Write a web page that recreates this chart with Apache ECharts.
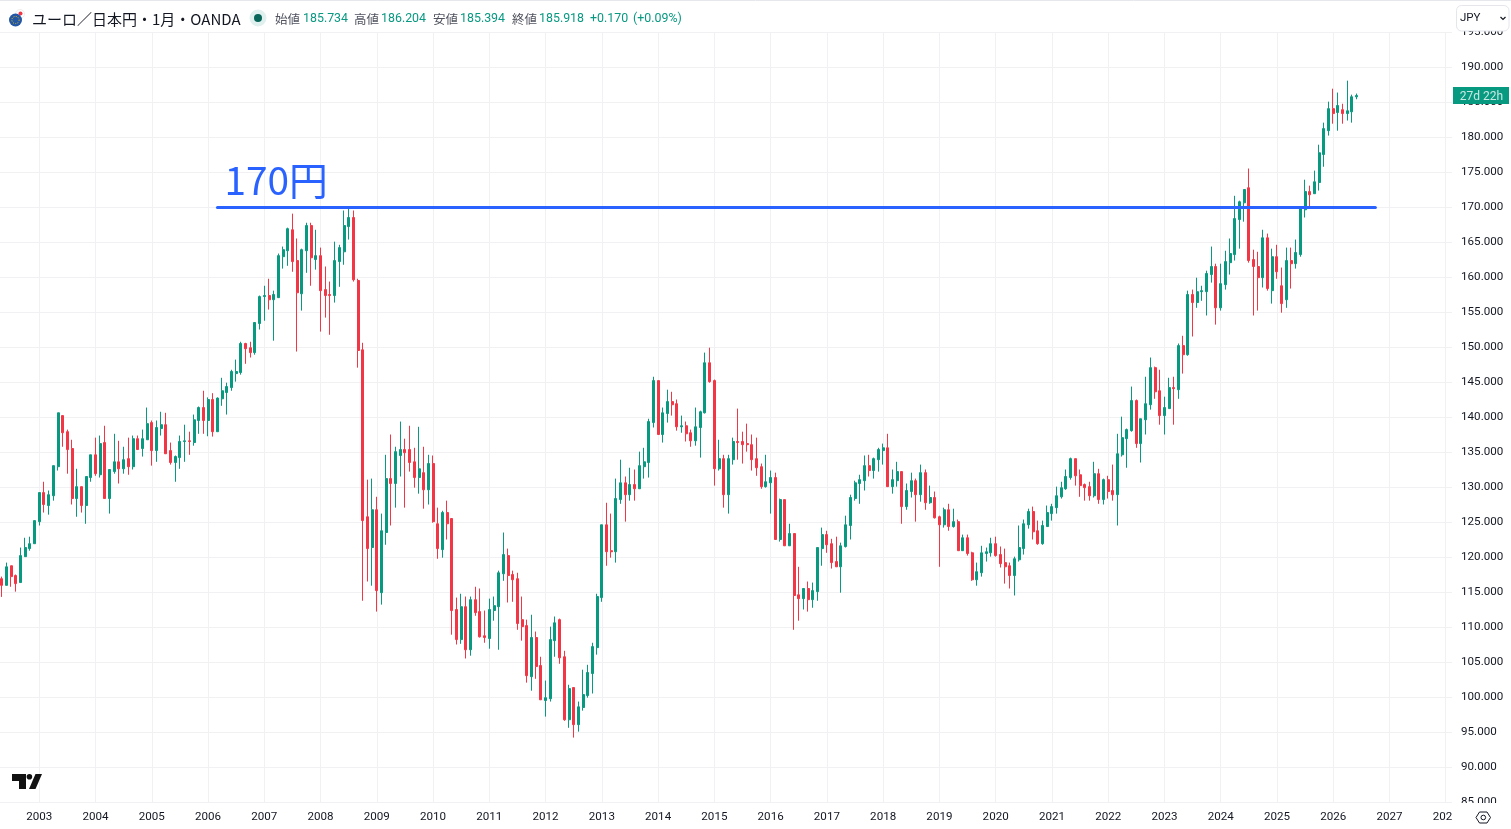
<!DOCTYPE html>
<html>
<head>
<meta charset="utf-8">
<style>html,body{margin:0;padding:0;background:#fff;overflow:hidden}#chart{width:1511px;height:829px}</style>
<script src="https://cdn.jsdelivr.net/npm/echarts@6/dist/echarts.min.js"></script>
</head>
<body>
<div id="chart"></div>
<script>
// Monthly EUR/JPY candles, one row per month: [open, close, low, high]
const candles2002 = [[116.9,115.95,114.3,117.2],[115.95,118.6,115.95,119.2],[118.75,117.2,115.75,118.75],[117.35,116.2,115.05,117.5],[116.35,120.2,116.35,121.35],[120.05,121.35,120.05,122.75],[121.2,121.9,120.9,122.9],[121.9,125.2,121.9,125.2]];
const candles2003 = [[125.05,129.2,124.5,129.2],[129.2,127.5,126.35,130.75],[127.35,128.9,126.05,129.5],[128.75,133.05,128.05,133.05],[132.9,140.6,132.35,140.6],[140.2,137.75,135.75,140.2],[137.9,135.35,131.9,138.2],[135.5,128.35,127.5,136.75],[128.35,130.05,125.75,132.6],[130.05,127.35,126.35,130.05],[127.35,131.5,124.75,131.5],[131.35,134.6,130.75,134.6]];
const candles2004 = [[134.6,131.9,131.6,137.05],[131.75,136.2,131.35,137.35],[136.35,128.35,128.35,138.75],[128.35,132.5,126.2,132.5],[132.2,133.6,131.9,137.6],[133.6,132.6,130.5,136.6],[132.6,133.9,131.9,135.75],[134.05,132.9,131.75,137.05],[132.9,136.9,132.5,137.35],[136.9,135.35,135.35,137.35],[135.5,136.9,134.35,138.2],[136.75,139.05,136.75,141.35]];
const candles2005 = [[139.2,135.2,133.05,139.5],[135.2,138.5,133.6,139.5],[138.35,138.9,137.35,140.75],[138.9,134.75,134.75,140.6],[135.2,133.5,133.2,136.35],[133.5,134.35,130.75,134.5],[134.2,136.5,132.6,137.35],[136.5,136.6,133.6,138.9],[136.6,136.5,134.6,137.9],[136.35,139.6,135.9,140.35],[139.5,141.35,137.6,141.5],[141.35,139.5,137.6,143.75]];
const candles2006 = [[139.5,142.5,137.25,142.8],[142.5,137.9,137.2,143.4],[137.9,142.7,137.9,142.8],[142.6,143.75,141.6,145.6],[143.5,144.35,140.35,144.9],[144.2,146.5,143.75,146.75],[146.2,146.5,145.05,148.2],[146.35,150.5,146.05,150.75],[150.5,149.75,147.6,150.6],[149.9,149.2,148.5,150.75],[149.2,153.5,148.9,153.5],[153.35,157.2,152.5,157.35]];
const candles2007 = [[157.2,157.35,153.75,158.75],[157.35,156.75,155.35,159.75],[156.75,157.5,150.9,158.05],[157.05,163.05,157.05,163.35],[162.9,163.9,161.2,164.35],[163.75,166.9,161.6,167.05],[166.75,162.2,160.75,169.05],[162.35,157.75,149.35,165.5],[157.6,163.9,155.2,164.05],[163.75,167.35,160.6,167.75],[167.35,162.75,158.75,167.75],[162.5,163.05,161.05,166.75]];
const candles2008 = [[163.05,158.05,152.2,164.2],[158.2,157.35,154.2,161.5],[157.5,157.35,151.75,159.35],[157.35,162.35,156.35,165.05],[162.2,164.2,158.6,164.6],[163.6,167.35,161.75,169.5],[167.2,168.5,165.35,170.05],[168.5,159.6,159.35,169.5],[159.5,149.5,147.05,159.75],[149.6,125.2,113.75,150.6],[125.75,121.2,116.5,131.05],[121.35,126.75,115.9,131.2]];
const candles2009 = [[126.75,115.2,112.2,128.6],[114.9,123.75,113.2,126.2],[123.5,131.2,121.75,134.6],[131.2,130.5,124.5,137.5],[130.5,135.05,127.05,135.75],[134.5,135.35,131.5,139.35],[135.35,134.9,127.05,136.9],[135.35,133.5,132.2,138.75],[133.6,131.35,129.9,135.6],[131.35,132.6,129.05,138.6],[132.05,129.6,126.9,135.75],[129.6,133.35,127.5,134.6]];
const candles2010 = [[133.35,125.05,124.9,134.5],[124.75,121.2,119.75,127.05],[121.05,126.35,119.9,126.6],[126.35,124.75,122.5,128.05],[125.5,112.35,108.9,125.5],[112.5,108.2,107.5,114.2],[108.2,112.9,107.6,114.75],[112.9,106.75,105.5,114.35],[106.75,113.9,105.9,114.35],[113.9,112.05,111.6,115.75],[112.2,108.6,108.5,115.5],[108.75,108.5,107.75,112.35]];
const candles2011 = [[108.35,112.5,106.9,114.05],[112.35,113.05,110.9,114.35],[112.9,117.75,106.75,118.05],[117.6,120.35,116.6,123.5],[120.2,117.35,113.5,121.2],[117.5,116.75,113.6,118.05],[116.9,110.5,109.6,117.75],[111.05,110.05,108.05,114.35],[110.2,103.05,102.05,111.05],[102.9,108.5,100.9,111.75],[108.5,104.35,102.6,109.35],[104.5,99.6,99.6,105.75]];
const candles2012 = [[99.5,99.9,97.2,102.35],[99.75,108.2,99.35,110.05],[108.05,110.6,105.75,111.5],[111.05,105.6,104.75,111.2],[105.75,96.75,96.6,106.6],[96.75,101.2,95.6,101.75],[101.35,96.05,94.2,101.35],[96.05,98.6,95.05,99.35],[98.5,100.35,98.05,103.9],[100.2,103.5,99.9,104.6],[103.35,107.2,100.5,107.75],[107.05,114.35,106.05,114.75]];
const candles2013 = [[114.2,124.6,113.6,124.6],[124.6,120.75,118.75,127.75],[120.9,120.75,119.9,126.2],[120.75,128.35,119.2,131.2],[128.2,130.6,127.6,133.9],[130.6,128.9,125.05,131.5],[128.9,130.35,128.05,132.75],[130.35,129.75,128.05,132.5],[129.75,133.05,129.75,135.05],[132.9,133.6,131.2,135.6],[133.5,139.35,131.35,139.75],[139.2,145.2,138.5,145.75]];
const candles2014 = [[145.2,137.5,137.5,145.2],[137.5,140.6,136.35,141.35],[140.5,142.2,139.2,143.9],[142.2,141.75,140.2,143.6],[141.9,138.6,138.05,142.5],[138.6,138.75,137.75,140.2],[138.75,137.6,136.5,139.35],[137.75,136.6,135.75,138.2],[136.6,138.6,135.9,141.35],[138.5,140.75,134.2,140.9],[140.6,147.75,140.5,149.2],[147.75,145.05,144.9,149.9]];
const candles2015 = [[145.2,132.6,130.2,145.35],[132.6,134.05,132.35,136.75],[134.05,128.9,127.05,134.6],[128.9,134.05,126.2,134.6],[133.9,136.5,133.2,137.05],[136.5,136.35,133.9,141.2],[136.5,136.05,133.35,137.9],[136.2,136.05,135.05,139.05],[136.05,133.9,132.35,137.5],[134.05,132.75,131.6,137.05],[132.9,130.05,129.75,133.35],[130.05,130.75,129.9,134.6]];
const candles2016 = [[130.6,131.35,126.2,132.35],[131.35,122.5,122.5,132.05],[122.5,128.2,122.2,128.35],[128.2,121.6,121.6,128.2],[121.6,123.35,121.6,124.75],[123.35,114.5,109.6,123.35],[114.6,114.05,110.9,118.6],[114.05,115.5,112.5,115.5],[115.5,113.9,112.2,116.5],[113.9,115.2,112.75,116.35],[115.05,121.35,113.75,121.35],[121.2,123.2,118.75,124.2]];
const candles2017 = [[123.2,121.75,120.6,123.75],[121.9,119.2,118.35,122.6],[119.35,118.6,118.6,122.9],[118.6,121.6,114.9,122.05],[121.5,124.6,121.35,125.9],[124.5,128.5,122.5,128.9],[128.35,130.6,128.05,130.9],[130.5,131.05,127.6,131.75],[130.9,133.05,129.5,134.5],[133.05,132.35,131.5,134.6],[132.35,134.05,131.2,134.2],[133.9,135.35,132.2,135.6]];
const candles2018 = [[135.2,135.6,133.2,136.2],[135.6,130.05,130.05,137.6],[130.05,131.05,129.05,132.5],[130.9,132.2,130.05,133.6],[132.2,127.2,124.75,132.2],[127.2,129.5,126.75,130.5],[129.35,130.9,128.5,132.05],[130.9,128.9,125.05,131.2],[128.9,132.05,127.9,133.2],[132.05,127.75,126.75,132.5],[127.75,128.5,127.6,130.2],[128.5,125.6,125.5,129.35]];
const candles2019 = [[125.75,124.6,118.6,125.9],[124.6,126.75,124.2,127.05],[126.75,124.35,123.75,127.6],[124.35,125.05,124.2,126.9],[125.05,120.9,120.9,125.35],[120.9,122.75,120.9,123.2],[122.75,120.5,120.2,123.2],[120.6,116.75,116.6,120.75],[116.75,117.9,115.9,119.2],[117.75,120.6,117.2,121.6],[120.5,120.75,119.35,121.35],[120.6,121.9,120.05,122.75]];
const candles2020 = [[121.9,120.2,120.05,122.9],[120.35,119.05,118.5,121.5],[119.2,118.6,116.2,121.2],[118.75,117.35,115.5,119.2],[117.35,119.75,114.5,120.05],[119.6,121.35,119.35,124.5],[121.2,124.75,120.35,125.35],[124.6,126.5,124.05,126.9],[126.5,123.6,122.5,127.2],[123.75,121.9,121.75,125.2],[121.9,124.5,121.75,125.2],[124.35,126.35,124.35,127.35]];
const candles2021 = [[126.2,127.2,125.2,127.6],[127.05,128.75,126.2,130.05],[128.6,129.9,128.35,130.75],[129.75,131.5,129.6,132.5],[131.35,134.05,131.05,134.2],[134.05,131.6,130.2,134.05],[131.75,130.2,128.6,132.5],[130.35,129.9,128.05,130.5],[130.05,128.75,128.05,130.75],[128.75,131.9,128.5,133.6],[131.9,128.2,127.6,132.6],[128.2,131.05,127.5,131.2]];
const candles2022 = [[131.05,129.35,128.35,131.6],[129.5,128.9,128.05,133.2],[128.9,134.75,124.5,137.6],[134.6,137.05,134.35,140.05],[136.9,138.2,132.75,138.35],[138.05,142.35,137.9,144.35],[142.35,136.2,135.6,142.5],[136.2,139.75,133.5,139.75],[139.6,141.9,137.5,145.75],[141.75,147.05,141.05,148.5],[147.05,143.6,142.6,147.2],[143.75,140.2,138.9,146.75]];
const candles2023 = [[140.2,141.35,137.5,142.9],[141.2,144.2,141.2,145.6],[144.2,144.05,138.9,145.75],[143.9,150.2,142.6,150.5],[150.2,148.9,146.2,151.6],[148.9,157.5,148.75,158.05],[157.5,156.35,151.5,158.2],[156.35,157.9,155.6,159.9],[157.9,158.05,156.6,158.75],[157.9,160.5,154.5,160.9],[160.35,161.5,159.2,164.35],[161.5,155.6,153.2,161.9]];
const candles2024 = [[155.6,159.05,155.2,161.9],[158.9,162.2,158.2,163.75],[162.05,163.35,160.35,165.5],[163.2,168.35,162.35,171.6],[168.2,170.75,164.05,170.9],[170.6,172.5,167.9,172.5],[172.75,162.35,162.05,175.5],[162.5,161.5,154.5,163.9],[161.5,159.9,155.2,163.6],[159.9,165.6,158.5,166.75],[165.6,158.35,158.05,166.2],[158.05,162.9,156.2,164.05]];
const candles2025 = [[162.9,160.75,159.75,164.6],[158.75,156.2,154.9,161.35],[156.75,162.35,155.6,164.2],[162.35,161.9,158.35,164.2],[161.9,163.5,161.2,165.35],[163.2,169.9,162.9,169.9],[169.6,172.2,168.5,173.9],[172.2,171.75,169.9,173.05],[171.9,173.6,171.9,175.2],[173.5,177.75,172.35,178.9],[177.5,181.2,175.75,182.05],[180.9,184.05,180.2,185.05]];
const candles2026 = [[184.05,183.35,181.9,186.9],[183.5,184.5,180.9,186.35],[183.9,183.35,181.9,184.75],[183.35,183.75,182.35,188.05],[183.6,185.75,182.05,186.05],[185.734,185.918,185.394,186.204]];

const monthlyCandles = [].concat(candles2002, candles2003, candles2004, candles2005, candles2006, candles2007, candles2008, candles2009, candles2010, candles2011, candles2012, candles2013, candles2014, candles2015, candles2016, candles2017, candles2018, candles2019, candles2020, candles2021, candles2022, candles2023, candles2024, candles2025, candles2026);

// Time axis runs from April 2002 (empty lead-in) to March 2028
const monthLabels = [];
for (let y = 2002, m = 4; y < 2028 || m <= 3; m === 12 ? (y++, m = 1) : m++) {
  monthLabels.push(y + '-' + String(m).padStart(2, '0'));
}
const candleValues = ['-'].concat(monthlyCandles);

const yAxisMin = 85, yAxisMax = 195, yAxisStep = 5;
const resistanceLevel = 170;
const resistanceLabel = '170円';
const instrumentTitle = 'ユーロ／日本円・1月・OANDA';
const ohlcLegend = [
  ['始値', 275, '185.734', 303], ['高値', 354, '186.204', 381],
  ['安値', 433, '185.394', 460], ['終値', 512, '185.918', 539]
];
const changeText = '+0.170';
const changePct = '(+0.09%)';
const currencyLabel = 'JPY';
const countdownLabel = '27d 22h';

const UP = '#089981', DOWN = '#f23645', GRID = '#f1f1f3', INK = '#131722';
const LATIN = 'Roboto, "Liberation Sans", sans-serif';
const CJK = '"Noto Sans CJK JP", sans-serif';
const isJanuary = (i, v) => v.endsWith('-01');

function legendText(text, x, fill, font, size) {
  return { type: 'text', z: 20, style: { text, x, y: 19, fill, font: size + 'px ' + font, textVerticalAlign: 'middle' } };
}

const overlay = [
  // Bottom-right corner clips the last tick labels; thin strip trims horizontal rules
  { type: 'rect', z: 8, shape: { x: 1452, y: 803, width: 59, height: 26 }, style: { fill: '#fff' } },
  { type: 'rect', z: 8, shape: { x: 1452, y: 30, width: 6, height: 773 }, style: { fill: '#fff' } },
  { type: 'line', z: 9, shape: { x1: 0, y1: 0.5, x2: 1511, y2: 0.5 }, style: { stroke: '#e6e7ec', lineWidth: 1 } },

  // Symbol badge
  { type: 'circle', z: 20, shape: { cx: 20, cy: 14, r: 4.5 }, style: { fill: '#fff', stroke: '#eee', lineWidth: 1 } },
  { type: 'circle', z: 20, shape: { cx: 20.5, cy: 13.5, r: 2 }, style: { fill: '#f23645' } },
  { type: 'circle', z: 21, shape: { cx: 15.5, cy: 20, r: 6.5 }, style: { fill: '#2456a6' } },
  { type: 'circle', z: 22, shape: { cx: 15.5, cy: 20, r: 3.6 }, style: { fill: 'none', stroke: '#f5c400', lineWidth: 1, lineDash: [1, 1.4] } },
  legendText(instrumentTitle, 32, INK, CJK, 15),

  // Market status dot
  { type: 'circle', z: 20, shape: { cx: 258, cy: 18, r: 8.5 }, style: { fill: '#e0f0ee' } },
  { type: 'circle', z: 21, shape: { cx: 258, cy: 18, r: 4 }, style: { fill: '#07655a' } },
  legendText(changeText, 590, UP, LATIN, 12.4),
  legendText(changePct, 633, UP, LATIN, 12.4),

  // Currency selector
  { type: 'rect', z: 20, shape: { x: 1456.5, y: 5.5, width: 52.5, height: 25.5, r: 5 }, style: { fill: '#fff', stroke: '#e4e6ec', lineWidth: 1 } },
  { type: 'text', z: 21, style: { text: currencyLabel, x: 1460, y: 18, fill: INK, font: '11.5px ' + LATIN, textVerticalAlign: 'middle' } },
  { type: 'polyline', z: 21, shape: { points: [[1500.5, 17], [1503, 19.5], [1505.5, 17]] }, style: { fill: 'none', stroke: INK, lineWidth: 1.2 } },

  // Countdown tag on the price scale
  { type: 'rect', z: 20, shape: { x: 1453, y: 87, width: 56, height: 17 }, style: { fill: UP } },
  { type: 'text', z: 21, style: { text: countdownLabel, x: 1481.5, y: 97, fill: 'rgba(255,255,255,0.78)', font: '12px ' + LATIN, textAlign: 'center', textVerticalAlign: 'middle' } },

  // Logo mark
  { type: 'polygon', z: 20, shape: { points: [[12, 774], [26, 774], [26, 789], [19, 789], [19, 781], [12, 781]] }, style: { fill: '#111' } },
  { type: 'circle', z: 20, shape: { cx: 29.4, cy: 776.8, r: 2.8 }, style: { fill: '#111' } },
  { type: 'polygon', z: 20, shape: { points: [[35.5, 774], [42, 774], [35.5, 789], [29, 789]] }, style: { fill: '#111' } },

  // Settings glyph
  { type: 'polygon', z: 20, shape: { points: [[1476, 817.5], [1479.5, 812], [1487, 812], [1490.5, 817.5], [1487, 823], [1479.5, 823]] }, style: { fill: 'none', stroke: INK, lineWidth: 1 } },
  { type: 'circle', z: 20, shape: { cx: 1483.3, cy: 817.5, r: 2.3 }, style: { fill: 'none', stroke: INK, lineWidth: 1 } }
];
ohlcLegend.forEach(([name, nx, value, vx]) => {
  overlay.push(legendText(name, nx, '#50535e', CJK, 12.5));
  overlay.push(legendText(value, vx, UP, LATIN, 12.4));
});

const chart = echarts.init(document.getElementById('chart'), null, { renderer: 'canvas' });
chart.setOption({
  animation: false,
  backgroundColor: '#fff',
  grid: { left: -2.888, top: 32, right: 55.92, height: 770, outerBoundsMode: 'none' },
  graphic: { elements: overlay },
  xAxis: {
    type: 'category',
    data: monthLabels,
    boundaryGap: false,
    axisLine: { show: false },
    axisTick: { show: false },
    splitLine: { show: true, interval: isJanuary, lineStyle: { color: GRID, width: 1 } },
    axisLabel: {
      interval: isJanuary,
      hideOverlap: false,
      formatter: v => v.slice(0, 4),
      color: INK, fontSize: 11.6, fontFamily: LATIN, margin: 9
    }
  },
  yAxis: {
    type: 'value',
    position: 'right',
    min: yAxisMin, max: yAxisMax, interval: yAxisStep,
    scale: true,
    axisLine: { show: false },
    axisTick: { show: false },
    splitLine: { show: true, lineStyle: { color: GRID, width: 1 } },
    axisLabel: { formatter: v => v.toFixed(3), color: INK, fontSize: 11.6, fontFamily: LATIN, margin: 6, padding: [4, 0, 0, 0] }
  },
  series: [{
    type: 'candlestick',
    data: candleValues,
    barWidth: 2.5,
    itemStyle: { color: UP, color0: DOWN, borderColor: UP, borderColor0: DOWN, borderWidth: 1 },
    markLine: {
      silent: true,
      symbol: 'none',
      z: 5,
      label: { show: false },
      lineStyle: { color: '#2962ff', width: 3, type: 'solid', cap: 'round' },
      data: [[{ coord: [47, resistanceLevel] }, { coord: [294, resistanceLevel] }]]
    },
    markPoint: {
      silent: true,
      symbol: 'circle',
      symbolSize: 0,
      z: 6,
      label: {
        show: true, position: 'right', offset: [2, -27],
        formatter: resistanceLabel,
        color: '#2962ff', fontSize: 38.8, fontFamily: CJK
      },
      data: [{ coord: [47, resistanceLevel] }]
    }
  }]
});
</script>
</body>
</html>
